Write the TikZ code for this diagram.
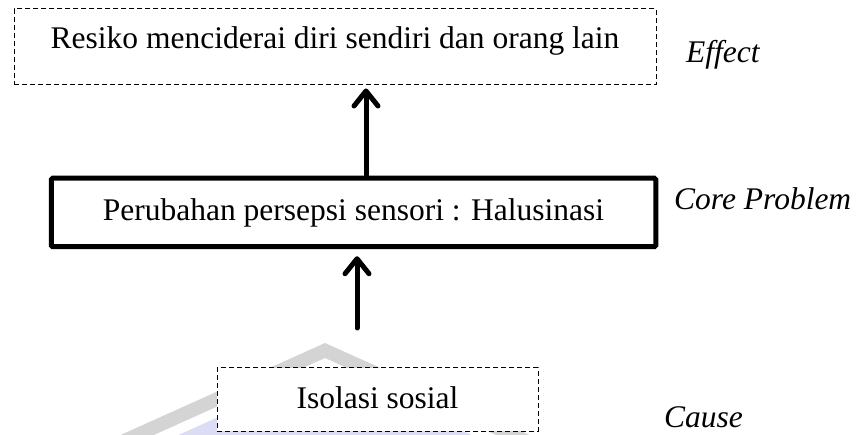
\documentclass[tikz,border=0pt]{standalone}
\usepackage{fontspec}
\setmainfont{Liberation Serif}
\usetikzlibrary{arrows.meta}

\definecolor{wmgray}{HTML}{D4D4D4}
\definecolor{wmlav}{HTML}{DCDCF4}

\tikzset{
  base/.style={font=\fontsize{31.5}{36}\selectfont},
  dashbox/.style={base, draw, fill=white, line width=1pt,
    dash pattern=on 5pt off 3pt, inner sep=0pt, text height=21pt},
  corebox/.style={base, draw, fill=white, line width=5pt,
    rounded corners=1.5pt, inner sep=0pt, text height=21pt, text depth=4pt},
  tag/.style={font=\fontsize{31.5}{36}\selectfont\itshape, anchor=base west, inner sep=0pt},
  arr/.style={line width=5pt, line cap=round,
    -{Straight Barb[length=15pt,width=24pt,round]}}
}

\begin{document}
\begin{tikzpicture}[x=1pt, y=-1pt]
  \useasboundingbox (0,0) rectangle (862,435);

  % faint emblem behind the lower part
  \begin{scope}
    \clip (0,0) rectangle (862,435);
    \fill[wmlav] (325,369) -- (550,470.25) -- (550,480) -- (100,480) -- (100,470.25) -- cycle;
    \fill[wmgray] (100,444.25) -- (325,343) -- (550,444.25) -- (550,459.25)
                  -- (325,358) -- (100,459.25) -- cycle;
  \end{scope}

  % boxes
  \node[dashbox, minimum width=642pt, minimum height=76pt, text depth=17pt]
    (effectbox) at (335,47) {Resiko menciderai diri sendiri dan orang lain};
  \node[corebox, minimum width=604.5pt, minimum height=68.5pt]
    (corebox) at (353.5,212.5) {Perubahan persepsi sensori : Halusinasi};
  \node[dashbox, minimum width=321pt, minimum height=63pt, text depth=4pt]
    (causebox) at (377.5,399.5) {Isolasi sosial};

  % side labels
  \node[tag] (effect) at (686,63) {Effect};
  \node[tag] (core) at (674,210) {Core Problem};
  \node[tag] (cause) at (664,428) {Cause};

  % arrows
  \coordinate (upx) at (366,0);
  \coordinate (tail) at (357,328);
  \draw[arr] (corebox.north -| upx) -- ([yshift=-3pt]effectbox.south -| upx);
  \draw[arr] (tail) -- ([yshift=-7pt]corebox.south -| tail);
\end{tikzpicture}
\end{document}
